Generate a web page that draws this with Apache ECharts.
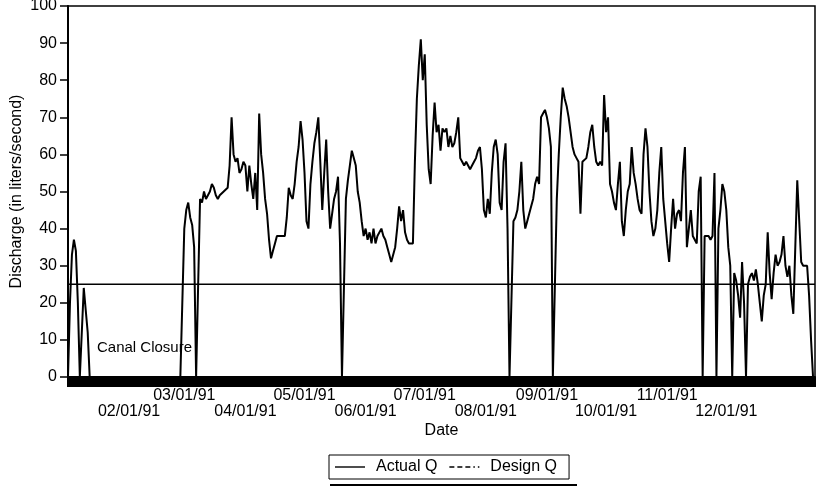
<!DOCTYPE html>
<html>
<head>
<meta charset="utf-8">
<script src="https://cdn.jsdelivr.net/npm/echarts@6/dist/echarts.min.js"></script>
<style>html,body{margin:0;padding:0;background:#fff}#c{width:818px;height:489px}</style>
</head>
<body>
<div id="c"></div>
<script>
// Daily series starting 1991-01-01 (380 days)
var startDate = '1991-01-01';
var dayCount = 380;
var actualQ = [
  0,20,33,37,34,20,0,0,24,18,
  12,0,0,0,0,0,0,0,0,0,
  0,0,0,0,0,0,0,0,0,0,
  0,0,0,0,0,0,0,0,0,0,
  0,0,0,0,0,0,0,0,0,0,
  0,0,0,0,0,0,0,0,0,40,
  45,47,43,41,35,0,0,48,47,50,
  48,49,50,52,51,49,48,49,49,50,
  50,51,57,70,60,58,59,55,56,58,
  57,50,57,52,48,55,45,71,60,55,
  48,44,37,32,34,36,38,38,38,38,
  38,43,51,49,48,52,58,62,69,64,
  55,42,40,52,58,63,66,70,58,45,
  55,64,50,40,44,48,50,54,36,0,
  0,48,53,57,61,59,57,50,47,42,
  38,40,37,39,36,40,36,38,38,40,
  38,37,35,33,31,31,35,40,46,42,
  45,39,37,36,36,36,58,75,84,91,
  80,87,68,56,52,65,74,66,68,61,
  67,66,67,62,65,62,63,66,70,59,
  58,57,58,57,56,57,58,59,61,62,
  56,45,43,48,44,55,62,64,60,47,
  45,58,63,40,0,0,42,43,45,50,
  58,45,40,42,44,46,48,52,54,52,
  70,71,72,70,67,62,0,0,48,60,
  70,78,75,73,70,66,62,60,59,58,
  44,58,58,59,62,66,68,62,58,57,
  58,57,76,66,70,52,50,47,45,52,
  58,42,38,45,50,52,62,55,52,48,
  45,44,60,67,62,50,42,38,40,45,
  55,62,48,42,36,31,40,48,40,44,
  45,42,55,62,35,40,45,38,37,36,
  50,54,0,38,38,38,37,38,55,0,
  40,45,52,50,45,35,30,0,28,26,
  22,16,31,20,0,25,27,28,26,29,
  25,20,15,22,25,39,28,21,28,33,
  30,31,33,38,30,27,30,22,17,35,
  53,42,31,30,30,30,22,10,0,0
];
var designQ = 25;
var yTicks = [0,10,20,30,40,50,60,70,80,90,100];
var upperRowMonths = ['03','05','07','09','11'];
var lowerRowMonths = ['02','04','06','08','10','12'];
var seriesNames = ['Actual Q', 'Design Q'];
var annotation = 'Canal Closure';

function pad(n){return (n<10?'0':'')+n;}
var dates = [];
var d0 = new Date(startDate + 'T00:00:00Z');
for (var i = 0; i < dayCount; i++) {
  var d = new Date(d0.getTime() + i*86400000);
  dates.push(pad(d.getUTCMonth()+1) + '/' + pad(d.getUTCDate()) + '/' + String(d.getUTCFullYear()).slice(2));
}
function inRow(val, months){ return val.slice(3,5) === '01' && val.slice(6) === '91' && months.indexOf(val.slice(0,2)) >= 0; }
var FONT = 'Liberation Sans';
function labelAxis(months, margin, main){
  return {
    type: 'category', data: dates, boundaryGap: false, position: 'bottom',
    name: main ? 'Date' : '', nameLocation: 'middle', nameGap: 46, nameMoveOverlap: false,
    nameTextStyle: {fontFamily: FONT, fontSize: 16, color: '#000'},
    axisLine: {show: main, lineStyle: {color: '#000', width: 2}},
    axisTick: {show: main, interval: 0, length: 10, lineStyle: {color: '#000', width: 2}},
    axisLabel: {
      interval: function(idx, val){ return inRow(val, months); },
      formatter: function(val){ return inRow(val, months) ? val : ''; },
      hideOverlap: false,
      fontFamily: FONT, fontSize: 16, color: '#000', margin: margin
    },
    splitLine: {show: false}
  };
}
var chart = echarts.init(document.getElementById('c'), null, {renderer:'canvas'});
chart.setOption({
  animation: false,
  backgroundColor: '#fff',
  grid: {left: 68, right: 3, top: 6, bottom: 112, show: true, borderColor: '#000', borderWidth: 1.5,
         containLabel: false, outerBoundsMode: 'none'},
  legend: {
    data: [
      {name: seriesNames[0], icon: 'path://M0,0H30V1.4H0Z'},
      {name: seriesNames[1], icon: 'path://M0,0H5V1.4H0Z M8,0H13V1.4H8Z M16,0H21V1.4H16Z M24,0H25.5V1.4H24Z M28.5,0H30V1.4H28.5Z'}
    ],
    left: 329, top: 455,
    itemWidth: 30, itemHeight: 1.5, itemGap: 12,
    borderColor: '#000', borderWidth: 1, padding: [4, 12, 4, 6],
    itemStyle: {color: '#000'},
    textStyle: {fontFamily: FONT, fontSize: 16, color: '#000', padding: [0,0,0,6]}
  },
  xAxis: [labelAxis(upperRowMonths, 11, true), labelAxis(lowerRowMonths, 27, false)],
  yAxis: {
    type: 'value', min: 0, max: 100, interval: 10,
    name: 'Discharge (in liters/second)', nameLocation: 'middle', nameGap: 43, nameMoveOverlap: false,
    nameTextStyle: {fontFamily: FONT, fontSize: 16, color: '#000'},
    axisLine: {show: true, lineStyle: {color: '#000', width: 2}},
    axisTick: {show: true, length: 8, lineStyle: {color: '#000', width: 1.5}},
    axisLabel: {fontFamily: FONT, fontSize: 16, color: '#000', margin: 11,
      formatter: function(v){ return yTicks.indexOf(v) >= 0 ? String(v) : ''; }},
    splitLine: {show: false}
  },
  series: [
    {name: seriesNames[0], type: 'line', xAxisIndex: 0, data: actualQ, symbol: 'none',
     lineStyle: {color: '#000', width: 2}, itemStyle: {color: '#000'}},
    {name: seriesNames[1], type: 'line', xAxisIndex: 0, data: [[0, designQ], [dayCount-1, designQ]], symbol: 'none',
     lineStyle: {color: '#000', width: 1.5}, itemStyle: {color: '#000'}}
  ],
  graphic: [
    {type: 'text', left: 97, top: 340, style: {text: annotation, font: '15px "Liberation Sans"', fill: '#000'}},
    {type: 'rect', shape: {x: 330, y: 484, width: 247, height: 2}, style: {fill: '#000'}}
  ]
});
</script>
</body>
</html>
